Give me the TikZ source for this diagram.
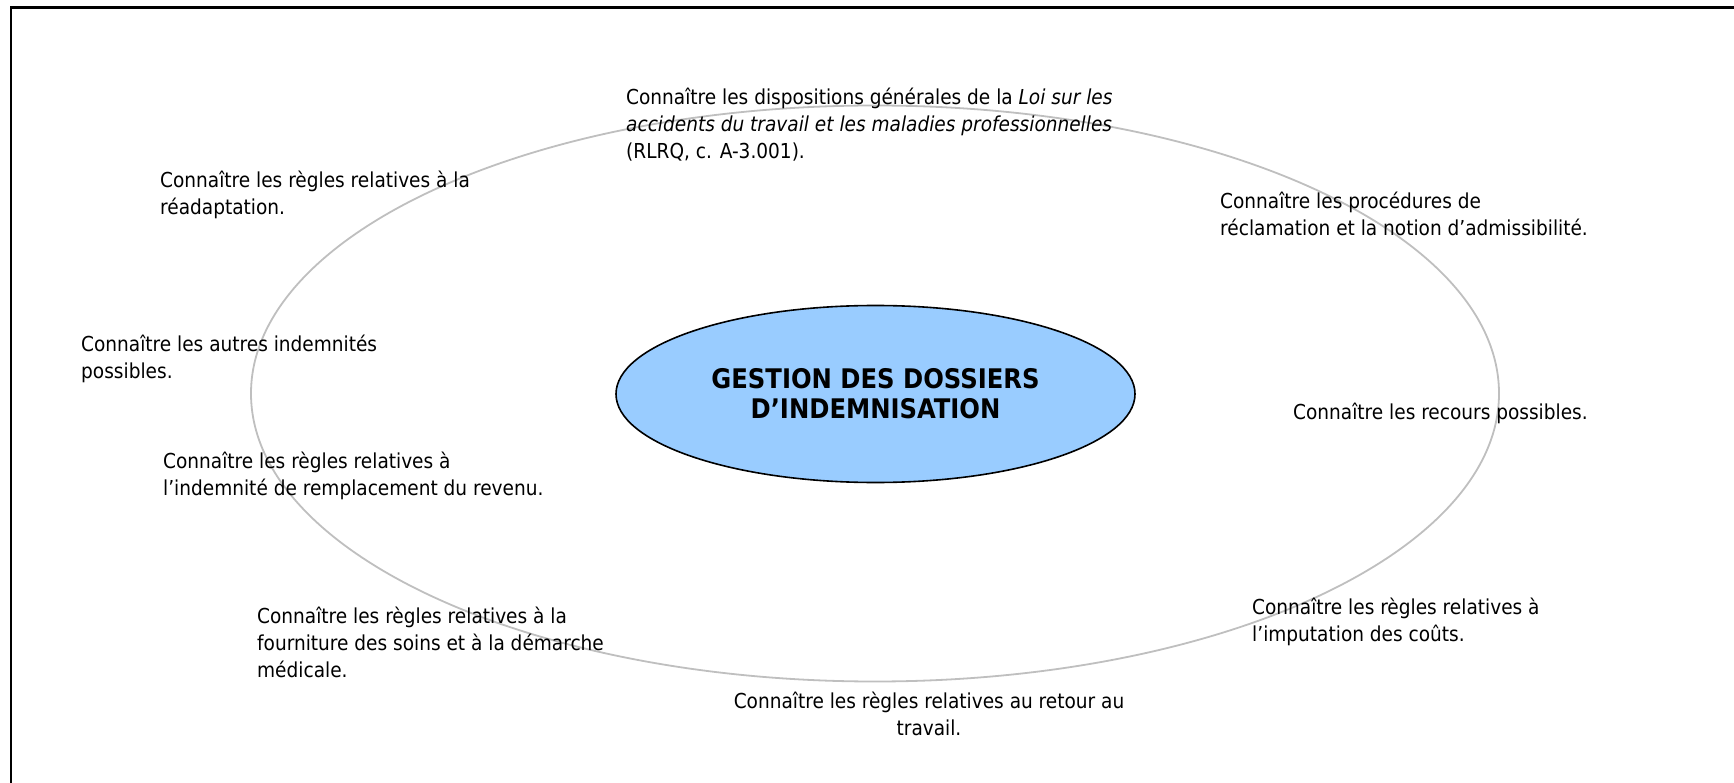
\documentclass[tikz,border=0pt]{standalone}
\usepackage{fontspec}
\usetikzlibrary{shapes.geometric}
\setmainfont{DejaVu Sans Condensed}
\begin{document}
\begin{tikzpicture}[x=1pt,y=-1pt,
  lbl/.style={inner sep=0pt, anchor=north west, align=left, font=\fontsize{20.6}{27.1}\selectfont},
  ring/.style={draw=black!25, line width=1.8pt},
  core/.style={ellipse, draw=black, line width=1.6pt, fill=coreblue, minimum width=519pt, minimum height=177pt, inner sep=0pt, align=center, font=\bfseries\fontsize{27}{30}\selectfont}]
\definecolor{coreblue}{RGB}{153,204,255}
\useasboundingbox (0,0) rectangle (1734,783);
\coordinate (tl) at (11,7.5);
\coordinate (tr) at (1734,7.5);
\coordinate (bl) at (11,783);
\draw[line width=2.6pt] (bl) -- (tl) -- (tr);
\draw[ring] (875,393.5) ellipse [x radius=624, y radius=288];
\node[core] (c) at (875.5,394) {GESTION DES DOSSIERS\\D’INDEMNISATION};
\node[lbl] (t1) at (626,88) {Connaître les dispositions générales de la \textit{Loi sur les}\\\textit{accidents du travail et les maladies professionnelles}\\(RLRQ, c. A-3.001).};
\node[lbl] (t2) at (160,171) {Connaître les règles relatives à la\\réadaptation.};
\node[lbl] (t3) at (1220,192) {Connaître les procédures de\\réclamation et la notion d’admissibilité.};
\node[lbl] (t4) at (81,335) {Connaître les autres indemnités\\possibles.};
\node[lbl] (t5) at (1293,403) {Connaître les recours possibles.};
\node[lbl] (t6) at (163,452) {Connaître les règles relatives à\\l’indemnité de remplacement du revenu.};
\node[lbl] (t7) at (257,607) {Connaître les règles relatives à la\\fourniture des soins et à la démarche\\médicale.};
\node[lbl] (t8) at (1252,598) {Connaître les règles relatives à\\l’imputation des coûts.};
\node[lbl, anchor=north, align=center] (t9) at (929,692) {Connaître les règles relatives au retour au\\travail.};
\end{tikzpicture}
\end{document}
